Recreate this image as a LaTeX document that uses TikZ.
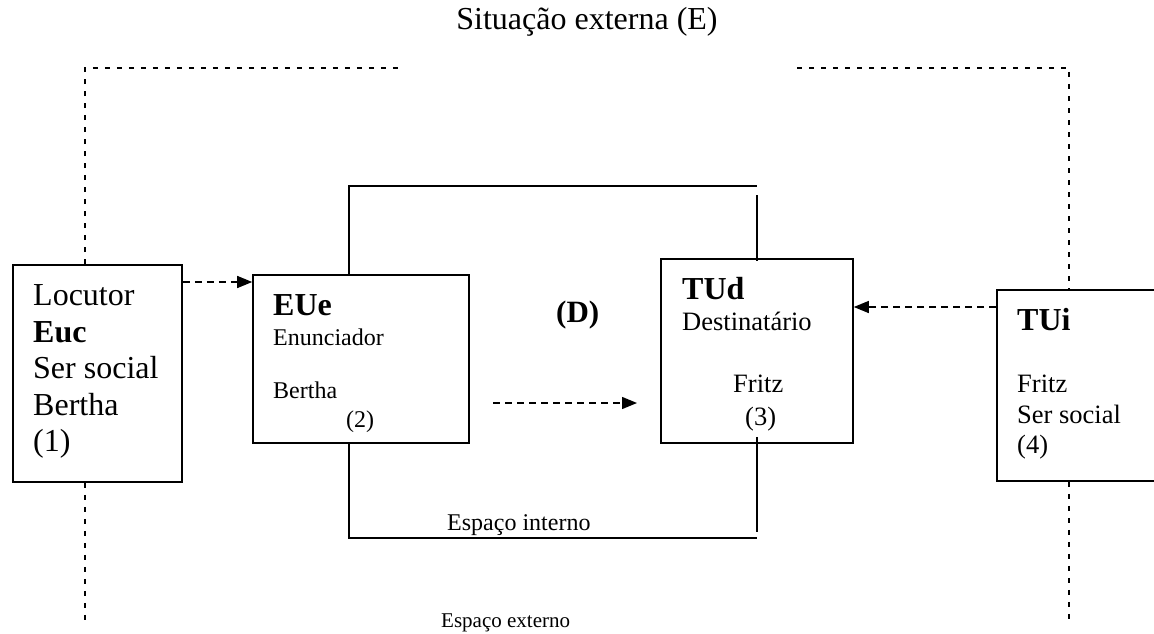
\documentclass[tikz,border=0pt]{standalone}
\usepackage{fontspec}
\setmainfont{Liberation Serif}
\usetikzlibrary{arrows.meta}
\begin{document}
\begin{tikzpicture}[x=1pt,y=-1pt,
  box/.style={draw,line width=1.6pt,rectangle,inner sep=0pt},
  frame/.style={line width=1.4pt},
  outer/.style={line width=1.2pt,dash pattern=on 5pt off 7pt},
  dasharrow/.style={line width=1.4pt,dash pattern=on 7pt off 5pt,
    -{Triangle[length=15pt,width=12pt]}},
  txt/.style={anchor=base west,inner sep=0pt},
  big/.style={txt,font=\fontsize{32}{36}\selectfont},
  bigb/.style={txt,font=\fontsize{32}{36}\selectfont\bfseries},
  mid/.style={txt,font=\fontsize{26.5}{30}\selectfont},
  small/.style={txt,font=\fontsize{24}{28}\selectfont}]
\useasboundingbox (0,0) rectangle (1154,634);

% boxes
\node[box,minimum width=169pt,minimum height=217pt] (euc) at (97.5,373.5) {};
\node[box,minimum width=216pt,minimum height=168pt] (eue) at (361,359) {};
\node[box,minimum width=192pt,minimum height=184pt] (tud) at (757,351) {};
\node[box,minimum width=173pt,minimum height=191pt] (tui) at (1083.5,385.5) {};

% title
\node[anchor=base,inner sep=0pt,font=\fontsize{32}{36}\selectfont] (tit) at (587,30) {Situação externa (E)};

% texts of the speaker box
\node[big] (l1) at (33,305) {Locutor};
\node[bigb] (l2) at (33,342) {Euc};
\node[big] (l3) at (33,378) {Ser social};
\node[big] (l4) at (33,415) {Bertha};
\node[big] (l5) at (33,451) {(1)};

% enunciator
\node[bigb] (e1) at (273,315) {EUe};
\node[small] (e2) at (273,345) {Enunciador};
\node[small] (e3) at (273,398) {Bertha};
\node[small] (e4) at (346,427) {(2)};

% addressee
\node[bigb] (d1) at (682,299) {TUd};
\node[mid] (d2) at (682,330) {Destinatário};
\node[mid] (d3) at (733,392) {Fritz};
\node[mid] (d4) at (745,425) {(3)};

% interpreter
\node[bigb] (i1) at (1017,330) {TUi};
\node[mid] (i2) at (1017,392) {Fritz};
\node[mid] (i3) at (1017,423) {Ser social};
\node[mid] (i4) at (1017,453) {(4)};

\node[txt,font=\fontsize{31}{36}\selectfont\bfseries] (dd) at (556,322) {(D)};
\node[small] (ein) at (447,530) {Espaço interno};
\node[txt,font=\fontsize{21}{25}\selectfont] (eex) at (441,627) {Espaço externo};

% anchor points on the frames
\coordinate (ol1) at (85,68);
\coordinate (ol2) at (398,68);
\coordinate (or1) at (797,68);
\coordinate (or2) at (1069,68);
\coordinate (olb) at (85,620);
\coordinate (orb) at (1069,620);
\coordinate (it1) at (349,186);
\coordinate (it2) at (757,186);
\coordinate (it3) at (757,195);
\coordinate (ib1) at (349,538);
\coordinate (ib2) at (757,538);
\coordinate (ib3) at (757,532);
\coordinate (m1) at (493,403);
\coordinate (m2) at (637,403);

% outer (external situation) frame
\draw[outer] (euc.north -| ol1) -- (ol1) -- (ol2);
\draw[outer] (or1) -- (or2) -- (tui.north -| or2);
\draw[outer] (euc.south -| ol1) -- (olb);
\draw[outer] (tui.south -| orb) -- (orb);

% inner frame
\draw[frame] (eue.north -| it1) -- (it1) -- (it2);
\draw[frame] (it3) -- ([yshift=-3pt]tud.north);
\draw[frame] (eue.south -| ib1) -- (ib1) -- (ib2);
\draw[frame] ([yshift=7pt]tud.south) -- (ib3);

% arrows
\draw[dasharrow] (euc.east |- 0,282) -- (eue.west |- 0,282);
\draw[dasharrow] (tui.west |- 0,307) -- (tud.east |- 0,307);
\draw[dasharrow] (m1) -- (m2);
\end{tikzpicture}
\end{document}
